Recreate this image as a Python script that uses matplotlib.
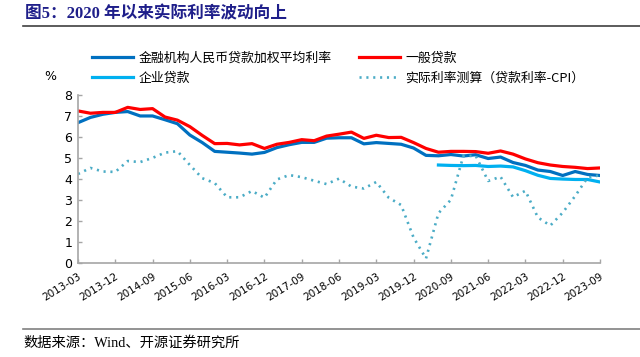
import matplotlib
matplotlib.use("Agg")
import matplotlib.pyplot as plt
import matplotlib.transforms as mtransforms
import numpy as np

plt.rcParams['font.family'] = ['Noto Sans CJK SC', 'DejaVu Sans']

# quarterly dates 2013-03 .. 2023-09
quarters = []
for y in range(2013, 2024):
    for m in ['03', '06', '09', '12']:
        quarters.append(str(y) + '-' + m)
quarters = quarters[:43]

# 金融机构人民币贷款加权平均利率
rate_avg = [6.68, 6.93, 7.08, 7.17, 7.21, 7.0, 7.0, 6.82, 6.63, 6.09,
            5.73, 5.31, 5.27, 5.23, 5.18, 5.26, 5.49, 5.63, 5.74, 5.74,
            5.94, 5.96, 5.96, 5.67, 5.73, 5.69, 5.65, 5.47, 5.12, 5.1,
            5.16, 5.09, 5.15, 4.97, 5.04, 4.78, 4.64, 4.42, 4.35, 4.16,
            4.35, 4.21, 4.16]
# 一般贷款
rate_general = [7.24, 7.13, 7.17, 7.17, 7.41, 7.31, 7.35, 6.95, 6.8, 6.49,
                6.07, 5.68, 5.69, 5.62, 5.68, 5.45, 5.65, 5.74, 5.87, 5.82,
                6.04, 6.13, 6.23, 5.93, 6.08, 5.97, 5.98, 5.73, 5.45, 5.27,
                5.31, 5.31, 5.3, 5.22, 5.33, 5.18, 4.95, 4.77, 4.66, 4.59,
                4.55, 4.49, 4.52]
# 企业贷款 (starts 2020-06)
rate_corp = [np.nan] * 29 + [4.66, 4.64, 4.63, 4.64, 4.59, 4.61, 4.57, 4.39,
                             4.17, 4.02, 3.99, 3.97, 3.97, 3.85]
# 实际利率测算（贷款利率-CPI）
rate_real = [4.23, 4.52, 4.35, 4.33, 4.85, 4.8, 5.0, 5.25, 5.32, 4.66,
             4.03, 3.8, 3.12, 3.12, 3.42, 3.1, 3.97, 4.18, 4.08, 3.91,
             3.75, 4.01, 3.63, 3.54, 3.85, 3.1, 2.75, 1.2, 0.2, 2.36,
             3.0, 5.08, 5.1, 3.9, 4.1, 3.13, 3.43, 2.16, 1.77, 2.39,
             3.18, 4.06, 4.17]

x = np.arange(len(quarters))

fig = plt.figure(figsize=(6.4, 3.57), dpi=100)
ax = fig.add_axes([78/640, 1-262.7/357, 522/640, 167.7/357])

l1, = ax.plot(x, rate_avg, color='#0070C0', lw=2.3, label='金融机构人民币贷款加权平均利率')
l2, = ax.plot(x, rate_general, color='#FF0000', lw=2.3, label='一般贷款')
l3, = ax.plot(x, rate_corp, color='#00B0F0', lw=2.3, label='企业贷款')
l4, = ax.plot(x, rate_real, color='#4BACC6', lw=1.9, linestyle=(0, (0.8, 1.8)),
              label='实际利率测算（贷款利率-CPI）')

ax.set_xlim(0, 42)
ax.set_ylim(0, 8)
ax.set_yticks(range(0, 9))
ax.set_yticklabels([str(v) for v in range(0, 9)], fontsize=9, family='DejaVu Sans')
ticks = x[::3]
ax.set_xticks(ticks)
ax.set_xticklabels([quarters[i] for i in ticks], rotation=32, ha='right',
                   rotation_mode='anchor', fontsize=7.5, family='DejaVu Sans')
offset = mtransforms.ScaledTranslation(4/72, 0, fig.dpi_scale_trans)
for lab in ax.get_xticklabels():
    lab.set_transform(lab.get_transform() + offset)

for s in ['top', 'right']:
    ax.spines[s].set_visible(False)
for s in ['left', 'bottom']:
    ax.spines[s].set_color('#A6A6A6')
    ax.spines[s].set_linewidth(1.2)
ax.tick_params(direction='in', length=3, color='#A6A6A6', width=1, pad=4)
ax.tick_params(axis='x', pad=6)

fig.legend([l1, l3, l2, l4], [l1.get_label(), l3.get_label(), l2.get_label(), l4.get_label()],
           ncol=2, loc='upper left', bbox_to_anchor=(92/640, 1-52/357),
           frameon=False, fontsize=9.3, handlelength=3.2, handletextpad=0.4,
           columnspacing=2.1, labelspacing=0.5, borderpad=0, borderaxespad=0)

fig.text(50/640, 1-76/357, '%', fontsize=9, ha='center', va='center', family='DejaVu Sans')

# title and source
fig.text(25/640, 1-14/357, '图5：2020 年以来实际利率波动向上', fontsize=12, fontweight='bold',
         color='#1F1F8A', ha='left', va='center', family=['Liberation Serif', 'Noto Sans CJK SC'])
fig.add_artist(plt.Line2D([23/640, 1], [1-26/357, 1-26/357], color='#404040', lw=1.2))
fig.add_artist(plt.Line2D([23/640, 1], [1-329/357, 1-329/357], color='#808080', lw=1.2))
fig.text(23/640, 1-343/357, '数据来源：Wind、开源证券研究所', fontsize=10.3, ha='left', va='center',
         family=['Liberation Serif', 'Noto Sans CJK SC'])

plt.savefig('out.png', dpi=100)
plt.close()
